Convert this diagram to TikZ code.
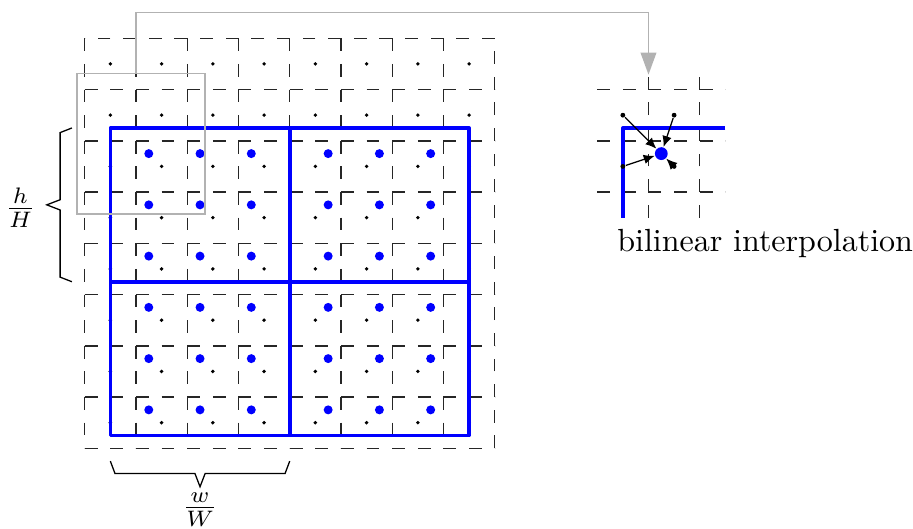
\documentclass[tikz,border=0pt]{standalone}
\usetikzlibrary{arrows.meta}
\begin{document}
\begin{tikzpicture}[x=16pt,y=16pt,
  gridline/.style={draw=black!85, line width=0.45pt, dash pattern=on 4pt off 4pt},
  gdot/.style={circle, fill=black, inner sep=0pt, minimum size=1.5pt},
  bdot/.style={circle, fill=blue, inner sep=0pt, minimum size=4pt},
  roi/.style={draw=blue, line width=1.15pt, line join=round},
  magn/.style={draw=black!30, line width=0.5pt},
  brc/.style={draw=black, line width=0.4pt, line join=miter},
  interp/.style={-{Latex[length=3.4pt,width=3pt]}, line width=0.4pt}
]
\useasboundingbox (-1.653,-1.555) rectangle (16.161,8.747);
% feature map grid
\foreach \v in {0,...,7} \draw[gridline] (0,\v) -- (8,\v);
\draw[gridline] (8,8) -- (0,8);
\foreach \u in {0,...,7} \draw[gridline] (\u,8) -- (\u,0);
\draw[gridline] (8,0) -- (8,8);
% cell centres
\foreach \u in {0.5,1.5,...,7.5} \foreach \v in {0.5,1.5,...,7.5} \fill (\u,\v) circle (0.6pt);
% RoI and bins
\draw[roi] (0.5,0.25) rectangle (7.5,6.25);
\draw[roi] (4,0.25) -- (4,6.25);
\draw[roi] (0.5,3.25) -- (7.5,3.25);
% sampling points
\foreach \u in {1.25,2.25,3.25,4.75,5.75,6.75}
  \foreach \v in {0.75,1.75,2.75,3.75,4.75,5.75}
    \fill[blue] (\u,\v) circle (1.4pt);
% magnifier
\draw[magn] (-0.156,4.566) rectangle (2.347,7.31);
\coordinate (magtop) at (1,7.31);
\coordinate (bend) at (1,8.5);
\coordinate (insettop) at (11,7.29);
\draw[magn, -{Triangle[length=6.9pt,width=4.9pt]}] (magtop) -- (bend) -| (insettop);
% inset
\foreach \v in {5,6,7} \draw[gridline] (10,\v) -- (12.5,\v);
\foreach \u in {11,12} \draw[gridline] (\u,4.5) -- (\u,7.25);
\draw[roi] (12.5,6.25) -- (10.5,6.25) -- (10.5,4.5);
\node[gdot] (n1) at (10.5,6.5) {};
\node[gdot] (n2) at (11.5,6.5) {};
\node[gdot] (n3) at (10.5,5.5) {};
\node[gdot] (n4) at (11.5,5.5) {};
\node[bdot] (s) at (11.25,5.75) {};
\foreach \n in {n1,n2,n3,n4} \draw[interp] (\n) -- (s);
\node[anchor=base west, inner sep=0pt] (bil) at (10.38,3.836) {bilinear interpolation};
% braces
\draw[brc] (-0.25,6.25) -- (-0.48,6.16) -- (-0.48,4.85) -- (-0.74,4.75)
  -- (-0.48,4.65) -- (-0.48,3.34) -- (-0.25,3.25);
\node (hH) at (-1.255,4.69) {$\frac{h}{H}$};
\draw[brc] (0.5,-0.25) -- (0.59,-0.49) -- (2.15,-0.49) -- (2.25,-0.75)
  -- (2.35,-0.49) -- (3.91,-0.49) -- (4,-0.25);
\node (wW) at (2.25,-1.2) {$\frac{w}{W}$};
\end{tikzpicture}
\end{document}
